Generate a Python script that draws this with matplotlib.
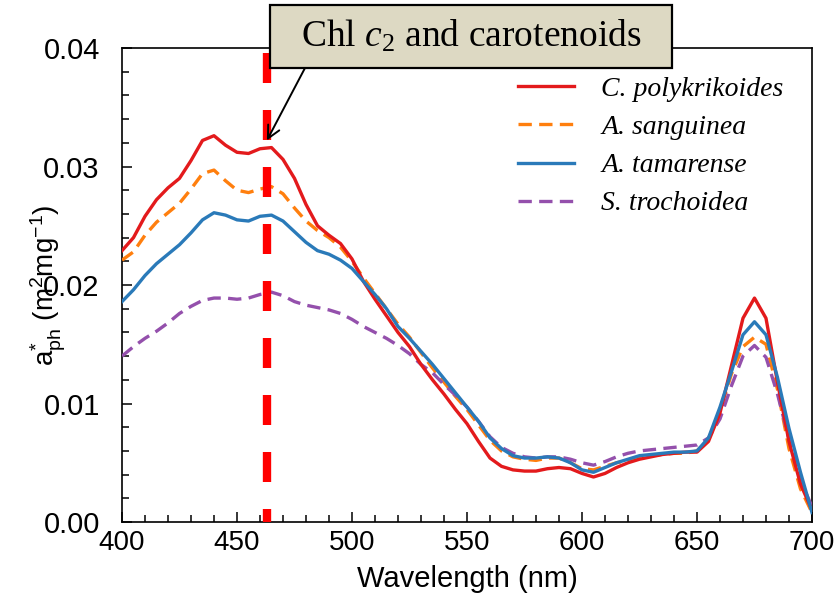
import matplotlib
matplotlib.use("Agg")
import matplotlib.pyplot as plt
from matplotlib.patches import Rectangle
from matplotlib.ticker import MultipleLocator

# wavelength grid (nm) and specific absorption a*_ph (m2 mg-1)
wavelength = list(range(400, 701, 5))

c_polykrikoides = [
    0.0229, 0.0240, 0.0258, 0.0272, 0.0282, 0.0290, 0.0305, 0.0322, 0.0326, 0.0318,
    0.0312, 0.0311, 0.0315, 0.0316, 0.0306, 0.0290, 0.0268, 0.0250, 0.0242, 0.0235,
    0.0222, 0.0203, 0.0188, 0.0174, 0.0160, 0.0148, 0.0133, 0.0120, 0.0108, 0.0095,
    0.0083, 0.0068, 0.0054, 0.0047, 0.0044, 0.0043, 0.0043, 0.0045, 0.0046, 0.0045,
    0.0041, 0.0038, 0.0041, 0.0046, 0.0050, 0.0053, 0.0055, 0.0057, 0.0058, 0.0059,
    0.0059, 0.0068, 0.0092, 0.0132, 0.0172, 0.0189, 0.0172, 0.0118, 0.0068, 0.0032,
    0.0010,
]
a_sanguinea = [
    0.0221, 0.0228, 0.0242, 0.0253, 0.0261, 0.0269, 0.0281, 0.0294, 0.0297, 0.0288,
    0.0280, 0.0278, 0.0281, 0.0283, 0.0277, 0.0265, 0.0254, 0.0246, 0.0240, 0.0232,
    0.0220, 0.0206, 0.0193, 0.0180, 0.0167, 0.0156, 0.0143, 0.0130, 0.0118, 0.0106,
    0.0095, 0.0082, 0.0069, 0.0060, 0.0055, 0.0053, 0.0052, 0.0054, 0.0054, 0.0050,
    0.0045, 0.0044, 0.0047, 0.0050, 0.0052, 0.0055, 0.0056, 0.0057, 0.0058, 0.0058,
    0.0060, 0.0070, 0.0094, 0.0125, 0.0148, 0.0156, 0.0150, 0.0112, 0.0062, 0.0028,
    0.0008,
]
a_tamarense = [
    0.0186, 0.0196, 0.0208, 0.0218, 0.0226, 0.0234, 0.0244, 0.0255, 0.0261, 0.0259,
    0.0255, 0.0254, 0.0258, 0.0259, 0.0254, 0.0245, 0.0236, 0.0229, 0.0226, 0.0221,
    0.0214, 0.0203, 0.0192, 0.0180, 0.0165, 0.0155, 0.0144, 0.0133, 0.0121, 0.0109,
    0.0097, 0.0085, 0.0071, 0.0062, 0.0056, 0.0054, 0.0054, 0.0055, 0.0054, 0.0050,
    0.0044, 0.0042, 0.0046, 0.0050, 0.0053, 0.0056, 0.0057, 0.0058, 0.0059, 0.0059,
    0.0060, 0.0071, 0.0097, 0.0127, 0.0158, 0.0169, 0.0158, 0.0122, 0.0079, 0.0042,
    0.0008,
]
s_trochoidea = [
    0.0140, 0.0148, 0.0155, 0.0161, 0.0168, 0.0176, 0.0182, 0.0187, 0.0189, 0.0189,
    0.0188, 0.0189, 0.0192, 0.0194, 0.0191, 0.0186, 0.0183, 0.0181, 0.0179, 0.0176,
    0.0171, 0.0165, 0.0160, 0.0155, 0.0149, 0.0142, 0.0133, 0.0126, 0.0116, 0.0107,
    0.0097, 0.0085, 0.0072, 0.0063, 0.0058, 0.0055, 0.0054, 0.0055, 0.0055, 0.0053,
    0.0050, 0.0048, 0.0051, 0.0055, 0.0058, 0.0060, 0.0061, 0.0062, 0.0063, 0.0064,
    0.0065, 0.0071, 0.0087, 0.0115, 0.0140, 0.0149, 0.0139, 0.0108, 0.0070, 0.0035,
    0.0013,
]

species = ["C. polykrikoides", "A. sanguinea", "A. tamarense", "S. trochoidea"]
marker_wavelength = 463
marker_label = r"Chl $\mathit{c}_{2}$ and carotenoids"

plt.rcParams["font.family"] = ["Liberation Sans", "DejaVu Sans"]
plt.rcParams["mathtext.fontset"] = "custom"
plt.rcParams["mathtext.rm"] = "Liberation Sans"
plt.rcParams["mathtext.it"] = "Liberation Serif:italic"
plt.rcParams["mathtext.default"] = "regular"

fig = plt.figure(figsize=(8.39, 6.01), dpi=100)
ax = fig.add_axes([0.1454, 0.1314, 0.8224, 0.7887])

lw = 2.4
dash = (0, (4, 2.2))
ax.plot(wavelength, c_polykrikoides, color="#e31a1c", lw=lw, label=species[0], zorder=4,
        solid_joinstyle="round")
ax.plot(wavelength, a_sanguinea, color="#ff7f0e", lw=lw, ls=dash, label=species[1], zorder=3)
ax.plot(wavelength, a_tamarense, color="#2a7ab9", lw=lw, label=species[2], zorder=5,
        solid_joinstyle="round")
ax.plot(wavelength, s_trochoidea, color="#9450ac", lw=lw, ls=dash, label=species[3], zorder=3)

# thick red dashed marker, drawn from the top so the dash phase matches
ax.plot([marker_wavelength, marker_wavelength], [0.04, 0.0], color="#ff0000", lw=6,
        ls=(6.24, (3.6, 3.24)), zorder=6, dash_capstyle="butt")

ax.set_xlim(400, 700)
ax.set_ylim(0, 0.04)
ax.xaxis.set_major_locator(MultipleLocator(50))
ax.xaxis.set_minor_locator(MultipleLocator(10))
ax.yaxis.set_major_locator(MultipleLocator(0.01))
ax.yaxis.set_minor_locator(MultipleLocator(0.002))
ax.yaxis.set_major_formatter(plt.FormatStrFormatter("%.2f"))
ax.tick_params(which="both", direction="in", top=False, right=False, width=1.1)
ax.tick_params(which="major", length=7)
ax.tick_params(which="minor", length=5)
ax.tick_params(axis="x", labelsize=20, pad=6)
ax.tick_params(axis="y", labelsize=21, pad=16)
for sp in ax.spines.values():
    sp.set_linewidth(1.2)

ax.set_xlabel("Wavelength (nm)", fontsize=21, labelpad=6)
ax.set_ylabel(r"$a_{ph}^{*}$ (m$^{2}$mg$^{-1}$)", fontsize=20)
ax.yaxis.set_label_coords(-0.078, 0.5)

ax.legend(loc="upper right", bbox_to_anchor=(0.995, 0.993), frameon=False,
          prop={"family": "Liberation Serif", "style": "italic", "size": 20},
          handlelength=2.0, handletextpad=1.0, labelspacing=0.46)

# callout box above the axes
box_x0, box_y0, box_x1, box_y1 = 270 / 839, 1 - 68 / 601, 672 / 839, 1 - 5 / 601
fig.patches.append(Rectangle((box_x0, box_y0), box_x1 - box_x0, box_y1 - box_y0,
                             transform=fig.transFigure, fc="#ddd9c3", ec="black",
                             lw=1.6, zorder=8))
fig.text((box_x0 + box_x1) / 2, 1 - 36 / 601, marker_label, ha="center", va="center",
         fontsize=27, family="Liberation Serif", zorder=9)
ax.annotate("", xy=(marker_wavelength, 0.0322), xycoords="data",
            xytext=(305 / 839, box_y0), textcoords="figure fraction",
            arrowprops=dict(arrowstyle="->,head_length=0.9,head_width=0.45", color="black",
                            lw=1.4, shrinkA=0, shrinkB=0),
            annotation_clip=False, zorder=10)

fig.savefig("out.png", dpi=100)
